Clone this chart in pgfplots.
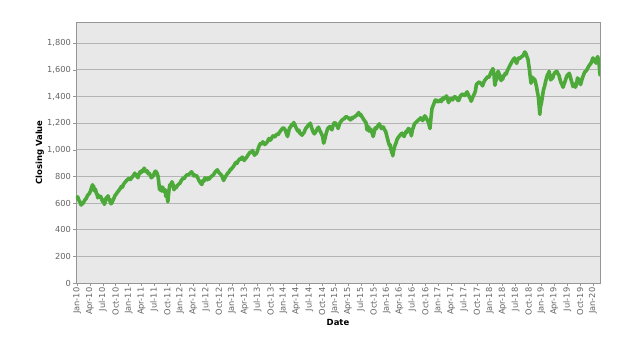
\documentclass[border=0pt]{standalone}
\usepackage{pgfplots}
\pgfplotsset{compat=1.18}
\usepackage{fontspec}
\setmainfont{DejaVu Sans}
\definecolor{plotbg}{RGB}{232,232,232}
\definecolor{linegreen}{RGB}{77,170,58}
\definecolor{gridc}{RGB}{180,180,180}
\definecolor{framec}{RGB}{150,150,150}
\definecolor{tickc}{RGB}{100,100,100}
\begin{document}
\begin{tikzpicture}
\path[use as bounding box] (-76bp,-81bp) rectangle (548bp,283bp);
\begin{axis}[
  scale only axis,
  width=524bp, height=261bp,
  at={(0,0)}, anchor=south west,
  xmin=2009.98, xmax=2020.136,
  ymin=0, ymax=1960,
  axis background/.style={fill=plotbg},
  axis line style={framec, line width=0.8pt},
  ytick={0,200,...,1800},
  ymajorgrids,
  major grid style={gridc, line width=0.9pt},
  xtick={2010,2010.25,2010.5,2010.75,2011,2011.25,2011.5,2011.75,2012,2012.25,2012.5,2012.75,2013,2013.25,2013.5,2013.75,2014,2014.25,2014.5,2014.75,2015,2015.25,2015.5,2015.75,2016,2016.25,2016.5,2016.75,2017,2017.25,2017.5,2017.75,2018,2018.25,2018.5,2018.75,2019,2019.25,2019.5,2019.75,2020},
  xticklabels={Jan-10,Apr-10,Jul-10,Oct-10,Jan-11,Apr-11,Jul-11,Oct-11,Jan-12,Apr-12,Jul-12,Oct-12,Jan-13,Apr-13,Jul-13,Oct-13,Jan-14,Apr-14,Jul-14,Oct-14,Jan-15,Apr-15,Jul-15,Oct-15,Jan-16,Apr-16,Jul-16,Oct-16,Jan-17,Apr-17,Jul-17,Oct-17,Jan-18,Apr-18,Jul-18,Oct-18,Jan-19,Apr-19,Jul-19,Oct-19,Jan-20},
  tick align=outside,
  major tick length=3bp,
  tick style={framec, line width=0.6pt},
  xtick pos=bottom, ytick pos=left,
  xticklabel style={rotate=90, anchor=east, font=\fontsize{8.3}{9}\selectfont, text=tickc, inner sep=1.5pt},
  yticklabel style={font=\fontsize{8.3}{9}\selectfont, text=tickc, inner sep=2pt},
  /pgf/number format/assume math mode=true,
  /pgf/number format/1000 sep={,},
  scaled y ticks=false,
  xlabel={\textbf{Date}},
  ylabel={\textbf{Closing Value}},
  xlabel style={at={(axis description cs:0.5,-0.153)}, anchor=center, font=\fontsize{8.5}{10}\selectfont},
  ylabel style={at={(axis description cs:-0.069,0.5)}, anchor=center, font=\fontsize{8.5}{10}\selectfont},
  clip=true,
]
\addplot[linegreen, line width=3.6bp, line join=round, line cap=round] coordinates {
(2010.00,634) (2010.01,648) (2010.02,640) (2010.03,625) (2010.04,620) (2010.05,612) (2010.06,605) (2010.08,585) (2010.09,598) (2010.10,592) (2010.12,602) (2010.14,615) (2010.16,628) (2010.18,635) (2010.20,655) (2010.22,665) (2010.24,672) (2010.26,690) (2010.28,715) (2010.30,738) (2010.31,722) (2010.32,728) (2010.34,690) (2010.35,705) (2010.36,700) (2010.38,665) (2010.39,672) (2010.40,640) (2010.42,658) (2010.44,645) (2010.46,650) (2010.48,625) (2010.50,610) (2010.51,625) (2010.53,590) (2010.55,615) (2010.56,635) (2010.58,645) (2010.59,638) (2010.60,655) (2010.62,625) (2010.63,630) (2010.64,610) (2010.66,595) (2010.68,605) (2010.70,625) (2010.72,640) (2010.74,660) (2010.76,668) (2010.78,680) (2010.80,690) (2010.82,700) (2010.84,712) (2010.86,725) (2010.88,720) (2010.90,740) (2010.92,752) (2010.94,760) (2010.96,770) (2011.00,785) (2011.02,776) (2011.04,780) (2011.06,792) (2011.08,800) (2011.10,812) (2011.12,825) (2011.14,805) (2011.16,812) (2011.18,790) (2011.20,815) (2011.22,835) (2011.24,828) (2011.26,845) (2011.28,840) (2011.30,862) (2011.32,848) (2011.34,835) (2011.36,842) (2011.38,820) (2011.40,825) (2011.42,810) (2011.44,790) (2011.46,798) (2011.48,805) (2011.50,828) (2011.52,840) (2011.54,832) (2011.55,825) (2011.57,800) (2011.58,770) (2011.60,700) (2011.61,725) (2011.62,720) (2011.63,705) (2011.64,690) (2011.65,715) (2011.66,720) (2011.67,705) (2011.68,700) (2011.70,680) (2011.71,700) (2011.72,650) (2011.74,670) (2011.75,640) (2011.76,609) (2011.77,650) (2011.78,690) (2011.80,740) (2011.81,725) (2011.82,735) (2011.84,760) (2011.86,740) (2011.87,725) (2011.88,700) (2011.90,725) (2011.92,715) (2011.94,730) (2011.96,738) (2011.98,745) (2012.00,752) (2012.02,770) (2012.04,778) (2012.06,790) (2012.08,785) (2012.10,800) (2012.12,808) (2012.14,815) (2012.16,810) (2012.18,820) (2012.20,828) (2012.22,835) (2012.24,822) (2012.26,805) (2012.28,812) (2012.30,800) (2012.32,805) (2012.34,790) (2012.36,772) (2012.38,760) (2012.40,748) (2012.42,740) (2012.44,770) (2012.46,765) (2012.48,790) (2012.50,782) (2012.52,775) (2012.54,790) (2012.56,780) (2012.58,792) (2012.60,800) (2012.62,805) (2012.64,810) (2012.66,822) (2012.68,835) (2012.70,842) (2012.72,850) (2012.74,835) (2012.76,825) (2012.78,818) (2012.80,810) (2012.82,792) (2012.84,770) (2012.86,785) (2012.88,800) (2012.90,812) (2012.92,825) (2012.94,830) (2012.96,845) (2013.00,860) (2013.02,870) (2013.04,880) (2013.06,895) (2013.08,905) (2013.10,898) (2013.12,915) (2013.14,925) (2013.16,935) (2013.18,930) (2013.20,945) (2013.22,938) (2013.24,920) (2013.26,932) (2013.28,940) (2013.30,952) (2013.32,965) (2013.34,975) (2013.36,985) (2013.38,980) (2013.40,995) (2013.42,978) (2013.44,960) (2013.46,968) (2013.48,975) (2013.50,995) (2013.52,1020) (2013.54,1038) (2013.56,1050) (2013.58,1045) (2013.60,1060) (2013.62,1052) (2013.64,1040) (2013.66,1048) (2013.68,1055) (2013.70,1070) (2013.72,1085) (2013.74,1072) (2013.76,1080) (2013.78,1095) (2013.80,1105) (2013.82,1098) (2013.84,1100) (2013.86,1112) (2013.88,1120) (2013.90,1115) (2013.92,1130) (2013.94,1140) (2013.96,1150) (2013.98,1160) (2014.00,1165) (2014.02,1158) (2014.04,1145) (2014.06,1120) (2014.08,1100) (2014.10,1135) (2014.12,1165) (2014.14,1172) (2014.16,1190) (2014.18,1185) (2014.20,1205) (2014.22,1190) (2014.24,1170) (2014.26,1155) (2014.28,1140) (2014.30,1148) (2014.32,1125) (2014.34,1118) (2014.36,1110) (2014.38,1122) (2014.40,1130) (2014.42,1150) (2014.44,1165) (2014.46,1172) (2014.48,1185) (2014.50,1190) (2014.52,1200) (2014.54,1175) (2014.56,1150) (2014.58,1132) (2014.60,1120) (2014.62,1132) (2014.64,1145) (2014.66,1160) (2014.68,1170) (2014.70,1150) (2014.72,1135) (2014.74,1118) (2014.76,1100) (2014.78,1050) (2014.80,1075) (2014.82,1110) (2014.84,1138) (2014.86,1160) (2014.88,1168) (2014.90,1175) (2014.92,1162) (2014.94,1150) (2014.96,1180) (2014.98,1200) (2015.00,1205) (2015.02,1195) (2015.04,1180) (2015.06,1160) (2015.08,1185) (2015.10,1205) (2015.12,1215) (2015.14,1225) (2015.16,1230) (2015.18,1235) (2015.20,1245) (2015.22,1250) (2015.24,1242) (2015.26,1240) (2015.28,1232) (2015.30,1225) (2015.32,1240) (2015.34,1235) (2015.36,1248) (2015.38,1245) (2015.40,1255) (2015.42,1260) (2015.44,1270) (2015.46,1280) (2015.47,1268) (2015.48,1260) (2015.50,1265) (2015.52,1250) (2015.54,1238) (2015.56,1225) (2015.58,1215) (2015.60,1205) (2015.61,1180) (2015.62,1150) (2015.63,1168) (2015.64,1160) (2015.65,1175) (2015.66,1140) (2015.68,1158) (2015.70,1150) (2015.72,1125) (2015.74,1100) (2015.76,1135) (2015.78,1165) (2015.80,1158) (2015.82,1175) (2015.84,1185) (2015.86,1195) (2015.88,1175) (2015.90,1160) (2015.92,1172) (2015.94,1170) (2015.96,1150) (2015.98,1140) (2016.00,1110) (2016.02,1080) (2016.04,1050) (2016.06,1030) (2016.07,1040) (2016.08,1000) (2016.09,1010) (2016.10,975) (2016.11,985) (2016.12,955) (2016.13,980) (2016.14,1000) (2016.16,1030) (2016.18,1050) (2016.20,1075) (2016.22,1090) (2016.24,1100) (2016.26,1110) (2016.28,1118) (2016.30,1125) (2016.32,1112) (2016.34,1100) (2016.36,1122) (2016.38,1140) (2016.40,1132) (2016.42,1160) (2016.44,1155) (2016.46,1150) (2016.47,1125) (2016.48,1105) (2016.50,1150) (2016.52,1170) (2016.54,1195) (2016.56,1202) (2016.58,1210) (2016.60,1218) (2016.62,1225) (2016.64,1232) (2016.66,1240) (2016.68,1230) (2016.70,1220) (2016.72,1240) (2016.74,1255) (2016.76,1245) (2016.78,1230) (2016.80,1215) (2016.82,1195) (2016.84,1160) (2016.86,1240) (2016.88,1310) (2016.90,1330) (2016.92,1350) (2016.94,1372) (2016.96,1375) (2016.98,1365) (2017.00,1360) (2017.02,1368) (2017.04,1375) (2017.06,1362) (2017.08,1385) (2017.10,1378) (2017.12,1395) (2017.14,1390) (2017.16,1405) (2017.18,1385) (2017.20,1355) (2017.22,1370) (2017.24,1385) (2017.26,1380) (2017.28,1375) (2017.30,1392) (2017.32,1400) (2017.34,1395) (2017.36,1385) (2017.38,1372) (2017.40,1370) (2017.42,1395) (2017.44,1410) (2017.46,1415) (2017.48,1420) (2017.50,1408) (2017.52,1410) (2017.54,1425) (2017.56,1435) (2017.58,1418) (2017.60,1400) (2017.62,1385) (2017.64,1365) (2017.66,1385) (2017.68,1405) (2017.70,1420) (2017.72,1440) (2017.74,1490) (2017.76,1498) (2017.78,1505) (2017.80,1510) (2017.82,1500) (2017.84,1495) (2017.86,1480) (2017.88,1505) (2017.90,1520) (2017.92,1530) (2017.94,1540) (2017.96,1550) (2017.98,1545) (2018.00,1560) (2018.02,1580) (2018.04,1595) (2018.06,1610) (2018.07,1595) (2018.08,1570) (2018.09,1520) (2018.10,1485) (2018.11,1510) (2018.13,1530) (2018.15,1565) (2018.16,1590) (2018.18,1570) (2018.19,1565) (2018.20,1540) (2018.22,1520) (2018.23,1545) (2018.25,1530) (2018.27,1560) (2018.28,1555) (2018.30,1575) (2018.32,1570) (2018.34,1595) (2018.36,1610) (2018.38,1625) (2018.40,1640) (2018.42,1655) (2018.44,1670) (2018.46,1680) (2018.48,1690) (2018.50,1665) (2018.52,1650) (2018.54,1672) (2018.56,1690) (2018.58,1685) (2018.60,1695) (2018.62,1700) (2018.64,1705) (2018.66,1720) (2018.68,1735) (2018.70,1722) (2018.72,1700) (2018.74,1680) (2018.75,1650) (2018.77,1600) (2018.78,1560) (2018.79,1530) (2018.80,1500) (2018.81,1525) (2018.83,1545) (2018.85,1520) (2018.87,1530) (2018.89,1500) (2018.91,1465) (2018.92,1440) (2018.94,1400) (2018.95,1360) (2018.97,1266) (2018.98,1320) (2019.00,1350) (2019.02,1400) (2019.04,1450) (2019.06,1475) (2019.08,1510) (2019.10,1540) (2019.12,1565) (2019.14,1575) (2019.15,1590) (2019.17,1550) (2019.18,1525) (2019.20,1535) (2019.22,1540) (2019.24,1565) (2019.26,1580) (2019.28,1585) (2019.30,1590) (2019.32,1572) (2019.34,1560) (2019.36,1530) (2019.38,1505) (2019.40,1490) (2019.42,1470) (2019.44,1495) (2019.46,1515) (2019.48,1540) (2019.50,1560) (2019.52,1565) (2019.54,1575) (2019.56,1550) (2019.58,1520) (2019.60,1495) (2019.61,1475) (2019.62,1490) (2019.64,1495) (2019.66,1470) (2019.67,1480) (2019.69,1515) (2019.70,1540) (2019.72,1530) (2019.73,1520) (2019.75,1500) (2019.76,1490) (2019.78,1520) (2019.80,1545) (2019.82,1565) (2019.84,1585) (2019.86,1590) (2019.88,1600) (2019.90,1615) (2019.92,1630) (2019.94,1640) (2019.96,1650) (2019.98,1670) (2020.00,1690) (2020.02,1675) (2020.03,1660) (2020.05,1680) (2020.06,1650) (2020.08,1690) (2020.09,1700) (2020.10,1685) (2020.11,1680) (2020.12,1640) (2020.125,1610) (2020.13,1585) (2020.14,1560)
};
\end{axis}
\end{tikzpicture}
\end{document}
